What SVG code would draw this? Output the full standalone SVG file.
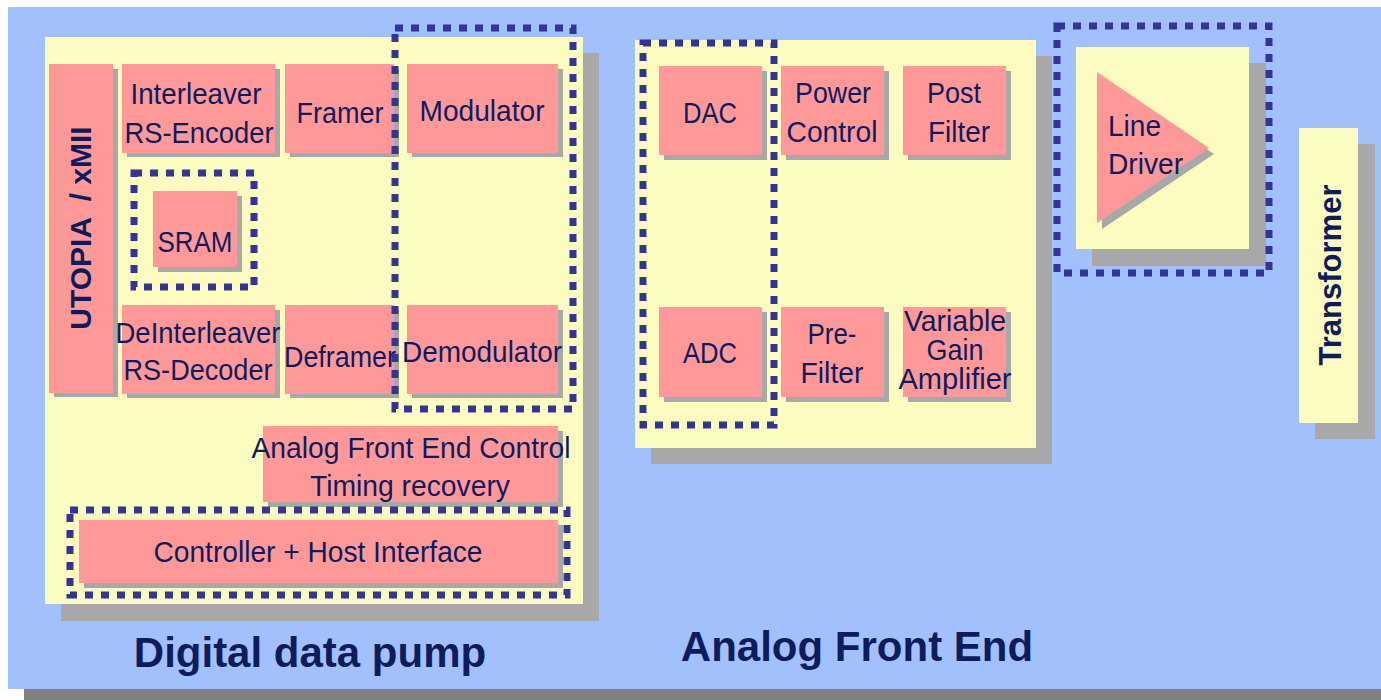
<svg xmlns="http://www.w3.org/2000/svg" width="1381" height="700" viewBox="0 0 1381 700">
<style>
.bg{fill:#A2C1FC}
.outer{fill:#808080}
.panel{fill:#FCFCC0}
.sh{fill:#A8A8A8}
.box{fill:#FF9999}
.dot{fill:none;stroke:#333399;stroke-width:7;stroke-dasharray:8 8}
.t{font-family:"Liberation Sans",Arial,sans-serif;font-size:30px;fill:#0E1C5E;text-anchor:middle}
.tl{font-family:"Liberation Sans",Arial,sans-serif;font-size:30px;fill:#0E1C5E}
.b{font-family:"Liberation Sans",Arial,sans-serif;font-weight:bold;fill:#0E1C5E;text-anchor:middle}
</style>
<rect x="0" y="0" width="1381" height="700" fill="#FFFFFF"/>
<rect class="outer" x="24" y="689" width="1357" height="11"/>
<rect class="bg" x="8" y="7" width="1373" height="682"/>

<g id="digital-data-pump">
<rect class="sh" x="61" y="53" width="538" height="568"/>
<rect class="panel" x="45" y="37" width="538" height="567"/>
<text class="b" x="310" y="667" font-size="42">Digital data pump</text>
</g>

<g id="utopia">
<rect class="sh" x="54" y="69" width="64" height="328"/>
<rect class="box" x="49" y="64" width="64" height="329"/>
<text class="b" font-size="30" transform="translate(91,228) rotate(-90)" xml:space="preserve">UTOPIA  / xMII</text>
</g>

<g id="interleaver">
<rect class="sh" x="127" y="69" width="153" height="88"/>
<rect class="box" x="122" y="64" width="153" height="89"/>
<text class="t" x="196" y="104" textLength="131" lengthAdjust="spacingAndGlyphs">Interleaver</text>
<text class="t" x="199" y="143" textLength="149" lengthAdjust="spacingAndGlyphs">RS-Encoder</text>
</g>

<g id="framer">
<rect class="sh" x="290" y="69" width="109" height="88"/>
<rect class="box" x="285" y="64" width="109" height="89"/>
<text class="t" x="340" y="123" textLength="87" lengthAdjust="spacingAndGlyphs">Framer</text>
</g>

<g id="modulator">
<rect class="sh" x="412" y="69" width="151" height="88"/>
<rect class="box" x="407" y="64" width="151" height="89"/>
<text class="t" x="482" y="121" textLength="125" lengthAdjust="spacingAndGlyphs">Modulator</text>
</g>

<g id="sram">
<rect class="sh" x="158" y="196" width="84" height="76"/>
<rect class="box" x="153" y="191" width="84" height="76"/>
<text class="t" x="195" y="252" textLength="75" lengthAdjust="spacingAndGlyphs">SRAM</text>
<rect class="dot" x="134" y="173" width="120" height="114"/>
</g>

<g id="deinterleaver">
<rect class="sh" x="127" y="310" width="153" height="88"/>
<rect class="box" x="122" y="305" width="153" height="89"/>
<text class="t" x="198" y="343" textLength="165" lengthAdjust="spacingAndGlyphs">DeInterleaver</text>
<text class="t" x="198" y="380" textLength="149" lengthAdjust="spacingAndGlyphs">RS-Decoder</text>
</g>

<g id="deframer">
<rect class="sh" x="290" y="310" width="109" height="88"/>
<rect class="box" x="285" y="305" width="109" height="89"/>
<text class="t" x="340" y="367" textLength="112" lengthAdjust="spacingAndGlyphs">Deframer</text>
</g>

<g id="demodulator">
<rect class="sh" x="412" y="310" width="151" height="88"/>
<rect class="box" x="407" y="305" width="151" height="89"/>
<text class="t" x="482" y="362" textLength="160" lengthAdjust="spacingAndGlyphs">Demodulator</text>
</g>

<g id="modem-group">
<rect class="dot" x="395" y="28" width="178" height="381"/>
</g>

<g id="afe-control">
<rect class="sh" x="268" y="431" width="295" height="76"/>
<rect class="box" x="263" y="426" width="295" height="76"/>
<text class="t" x="411" y="458" textLength="319" lengthAdjust="spacingAndGlyphs">Analog Front End Control</text>
<text class="t" x="410" y="496" textLength="200" lengthAdjust="spacingAndGlyphs">Timing recovery</text>
</g>

<g id="controller">
<rect class="sh" x="84" y="525" width="479" height="63"/>
<rect class="box" x="79" y="520" width="479" height="63"/>
<text class="t" x="318" y="562" textLength="329" lengthAdjust="spacingAndGlyphs">Controller + Host Interface</text>
<rect class="dot" x="70" y="510" width="497" height="85"/>
</g>

<g id="analog-front-end">
<rect class="sh" x="651" y="56" width="401" height="408"/>
<rect class="panel" x="635" y="40" width="401" height="408"/>
<text class="b" x="857" y="661" font-size="42">Analog Front End</text>
</g>

<g id="dac">
<rect class="sh" x="664" y="71" width="103" height="89"/>
<rect class="box" x="659" y="66" width="103" height="89"/>
<text class="t" x="710" y="123" textLength="54" lengthAdjust="spacingAndGlyphs">DAC</text>
</g>

<g id="power-control">
<rect class="sh" x="786" y="71" width="103" height="89"/>
<rect class="box" x="781" y="66" width="103" height="89"/>
<text class="t" x="833" y="103" textLength="76" lengthAdjust="spacingAndGlyphs">Power</text>
<text class="t" x="832" y="142" textLength="91" lengthAdjust="spacingAndGlyphs">Control</text>
</g>

<g id="post-filter">
<rect class="sh" x="908" y="71" width="103" height="89"/>
<rect class="box" x="903" y="66" width="103" height="89"/>
<text class="t" x="954" y="103" textLength="54" lengthAdjust="spacingAndGlyphs">Post</text>
<text class="t" x="959" y="142" textLength="62" lengthAdjust="spacingAndGlyphs">Filter</text>
</g>

<g id="adc">
<rect class="sh" x="664" y="312" width="103" height="90"/>
<rect class="box" x="659" y="307" width="103" height="90"/>
<text class="t" x="710" y="363" textLength="54" lengthAdjust="spacingAndGlyphs">ADC</text>
</g>

<g id="pre-filter">
<rect class="sh" x="786" y="312" width="103" height="90"/>
<rect class="box" x="781" y="307" width="103" height="90"/>
<text class="t" x="832" y="344" textLength="49" lengthAdjust="spacingAndGlyphs">Pre-</text>
<text class="t" x="832" y="383" textLength="63" lengthAdjust="spacingAndGlyphs">Filter</text>
</g>

<g id="vga">
<rect class="sh" x="908" y="312" width="103" height="90"/>
<rect class="box" x="903" y="307" width="103" height="90"/>
<text class="t" x="955" y="331" font-size="25" textLength="102" lengthAdjust="spacingAndGlyphs">Variable</text>
<text class="t" x="955" y="360" font-size="25" textLength="57" lengthAdjust="spacingAndGlyphs">Gain</text>
<text class="t" x="955" y="389" font-size="25" textLength="113" lengthAdjust="spacingAndGlyphs">Amplifier</text>
</g>

<g id="converter-group">
<rect class="dot" x="643" y="43" width="131" height="382"/>
</g>

<g id="line-driver">
<rect class="sh" x="1092" y="63" width="174" height="203"/>
<rect class="panel" x="1076" y="47" width="173" height="202"/>
<polygon class="sh" points="1102,78 1214,154 1102,229"/>
<polygon class="box" points="1097,72 1209,148 1097,223"/>
<text class="tl" x="1108" y="136" textLength="53" lengthAdjust="spacingAndGlyphs">Line</text>
<text class="tl" x="1108" y="174" textLength="75" lengthAdjust="spacingAndGlyphs">Driver</text>
<rect class="dot" x="1057" y="26" width="212" height="247"/>
</g>

<g id="transformer">
<rect class="sh" x="1315" y="144" width="60" height="295"/>
<rect class="panel" x="1299" y="128" width="59" height="295"/>
<text class="b" font-size="31" transform="translate(1341,275) rotate(-90)">Transformer</text>
</g>

<g id="connectors"></g>
</svg>
